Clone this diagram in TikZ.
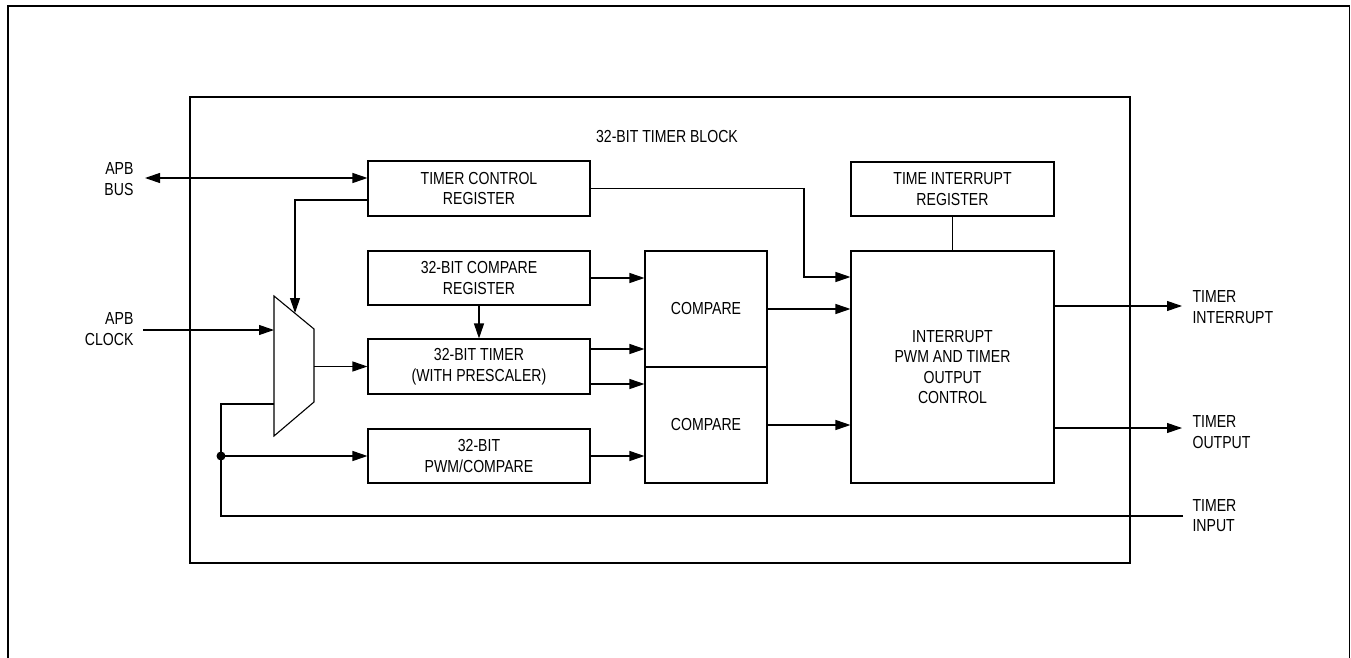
\documentclass[tikz,border=0pt]{standalone}
\usepackage{fontspec}
\setmainfont{Liberation Sans}[FakeStretch=0.81]
\usepackage{tikz}
\usetikzlibrary{positioning,
        arrows.meta}

\begin{document}
\begin{tikzpicture}[x=1pt,y=-1pt,line width=1.1pt,
        font=\fontsize{17.4}{20.5}\selectfont,
        blk/.style={rectangle,draw,align=center,inner sep=0pt},
        lbl/.style={align=left,inner sep=0pt},
        arr/.style={-{Triangle[length=15pt,width=10pt]}}]
        \useasboundingbox (0,0) rectangle (1351,658);
        % frame and block outline
        \draw[line width=1.5pt] (8,658) -- (8,6) -- (1349.5,6) -- (1349.5,658);
        \draw (190,97) rectangle (1130,563);
        \node [inner sep=0pt] (title) at (667,137) {32-BIT TIMER BLOCK};

        \node [blk,minimum width=222pt,minimum height=55pt] (tcr) at (479,188.5) {TIMER CONTROL\\REGISTER};
        \node [blk,minimum width=222pt,minimum height=54pt] (cmpreg) at (479,278) {32-BIT COMPARE\\REGISTER};
        \node [blk,minimum width=222pt,minimum height=55pt] (tmr) at (479,366.5) {32-BIT TIMER\\(WITH PRESCALER)};
        \node [blk,minimum width=222pt,minimum height=54pt] (pwm) at (479,456) {32-BIT\\PWM/COMPARE};
        \node [blk,minimum width=122pt,minimum height=116pt] (cmpA) at (706,309) {COMPARE};
        \node [blk,minimum width=122pt,minimum height=116pt] (cmpB) at (706,425) {COMPARE};
        \node [blk,minimum width=203pt,minimum height=54pt] (tir) at (952.5,189) {TIME INTERRUPT\\REGISTER};
        \node [blk,minimum width=203pt,minimum height=232pt] (ctrl) at (952.5,367) {INTERRUPT\\PWM AND TIMER\\OUTPUT\\CONTROL};

        % mux
        \coordinate (m1) at (274,296);
        \coordinate (m2) at (314,329);
        \coordinate (m3) at (314,402);
        \coordinate (m4) at (274,436);
        \draw (m1) -- (m2) -- (m3) -- (m4) -- cycle;
        \coordinate (mclk) at (274,330);
        \coordinate (msel) at (295,313);
        \coordinate (mtin) at (274,404);
        \coordinate (mout) at (314,366.5);

        % outside labels
        \node [lbl,align=right,anchor=east] (bus) at (134,179) {APB\\BUS};
        \node [lbl,align=right,anchor=east] (clk) at (134,329) {APB\\CLOCK};
        \node [lbl,anchor=west] (tint) at (1192,307) {TIMER\\INTERRUPT};
        \node [lbl,anchor=west] (tout) at (1192,432) {TIMER\\OUTPUT};
        \node [lbl,anchor=west] (tin) at (1192,515.5) {TIMER\\INPUT};

        \coordinate (busL) at (145,178);
        \coordinate (clkL) at (143,330);
        \coordinate (tinR) at (1183,516);
        \coordinate (intR) at (1182,306);
        \coordinate (outR) at (1182,428);
        \coordinate (tap) at (221,456);
        \coordinate (bend) at (804,277);
        \coordinate (t1) at ([yshift=17.5pt]tmr.east);
        \coordinate (t2) at ([yshift=-17.5pt]tmr.east);

        \draw[{Triangle[length=15pt,width=10pt]}-{Triangle[length=15pt,width=10pt]}] (busL) -- (busL -| tcr.west);
        \draw[arr] (clkL) -- (mclk);
        \draw[arr] ([yshift=-11.5pt]tcr.west) -| (msel);
        \draw[arr] (mout) -- (tmr.west);
        \draw (tinR) -| (tap) |- (mtin);
        \fill (tap) circle (4.5pt);
        \draw[arr] (tap) -- (pwm.west);

        \draw[arr] (cmpreg.south) -- (tmr.north);
        \draw[arr] (cmpreg.east) -- (cmpreg.east -| cmpA.west);
        \draw[arr] (t1) -- (t1 -| cmpA.west);
        \draw[arr] (t2) -- (t2 -| cmpB.west);
        \draw[arr] (pwm.east) -- (pwm.east -| cmpB.west);

        \draw[arr] (tcr.east) -| (bend) -- (bend -| ctrl.west);
        \draw[arr] (cmpA.east) -- (cmpA.east -| ctrl.west);
        \draw[arr] (cmpB.east) -- (cmpB.east -| ctrl.west);
        \draw (tir.south) -- (ctrl.north);
        \draw[arr] (intR -| ctrl.east) -- (intR);
        \draw[arr] (outR -| ctrl.east) -- (outR);
    \end{tikzpicture}
\end{document}
